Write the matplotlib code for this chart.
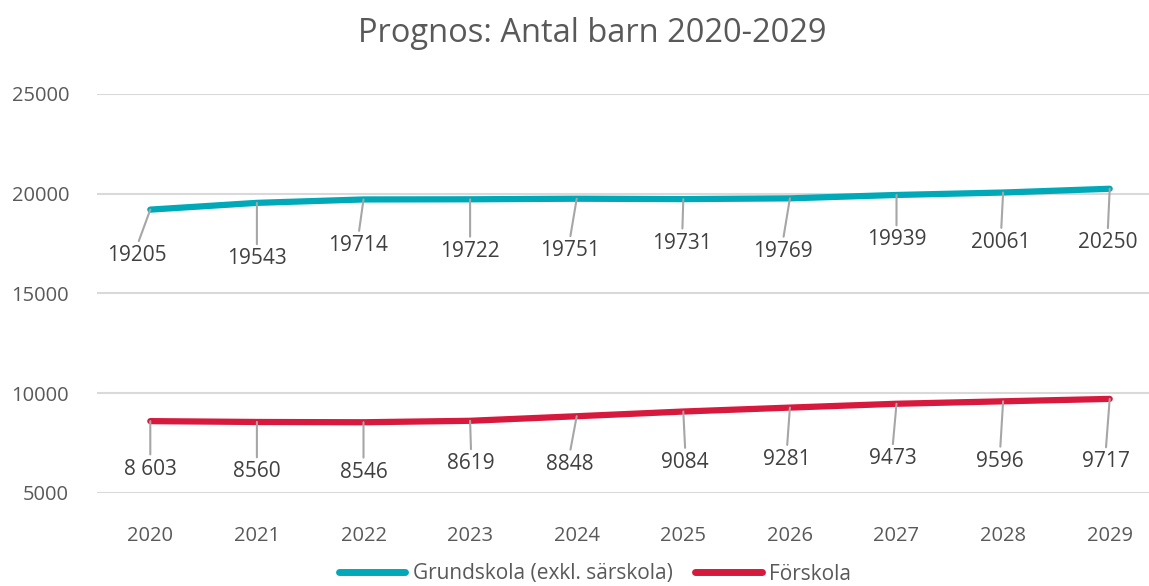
import numpy as np
import matplotlib.pyplot as plt
from matplotlib.lines import Line2D

plt.rcParams['font.family'] = ['Open Sans', 'DejaVu Sans']

years = ["2020", "2021", "2022", "2023", "2024", "2025", "2026", "2027", "2028", "2029"]
grundskola = [19205, 19543, 19714, 19722, 19751, 19731, 19769, 19939, 20061, 20250]
forskola = [8603, 8560, 8546, 8619, 8848, 9084, 9281, 9473, 9596, 9717]
forskola_labels = ["8 603", "8560", "8546", "8619", "8848", "9084", "9281", "9473", "9596", "9717"]

# label offsets in pixels (dx, dy), as placed in the original
grund_off = [(-13, -46), (0, -56), (-5, -46), (0, -52), (-7, -52),
             (-1, -44), (-7, -53), (0, -45), (-2, -50), (-2, -54)]
fors_off = [(0, -48), (0, -50), (0, -50), (1, -43), (-7, -48),
            (2, -51), (-3, -52), (-4, -55), (-3, -60), (-4, -63)]

TEAL = "#00A9B7"
RED = "#D7193D"
TXT = "#595959"
GRID = "#D9D9D9"
LEAD = "#A6A6A6"

W, H = 1149, 586
fig = plt.figure(figsize=(W / 100, H / 100), dpi=100)
ax = fig.add_axes([97 / W, 1 - 493 / H, (1163 - 97) / W, (493 - 94) / H])

x = np.arange(len(years))
ax.plot(x, grundskola, color=TEAL, lw=4.5, solid_capstyle="round", zorder=3)
ax.plot(x, forskola, color=RED, lw=4.5, solid_capstyle="round", zorder=3)

def label(xi, yi, txt, off):
    ax.annotate(txt, xy=(xi, yi), xytext=off, textcoords="offset pixels",
                ha="center", va="center", fontsize=15, color="#404040",
                arrowprops=dict(arrowstyle="-", color=LEAD, lw=1.5,
                                shrinkA=1, shrinkB=0, relpos=(0.5, 1.0)),
                annotation_clip=False, zorder=4)

for i in range(len(years)):
    label(x[i], grundskola[i], str(grundskola[i]), grund_off[i])
    label(x[i], forskola[i], forskola_labels[i], fors_off[i])

ax.set_xlim(-0.5, len(years) - 0.5)
ax.set_ylim(5000, 25000)
ax.set_yticks(range(5000, 25001, 5000))
ax.set_xticks(x)
ax.set_xticklabels(years)
ax.yaxis.grid(True, color=GRID, lw=1.5)
ax.set_axisbelow(True)
for s in ax.spines.values():
    s.set_visible(False)
ax.tick_params(length=0, labelsize=14.5, colors=TXT)
ax.tick_params(axis="y", pad=20)
ax.tick_params(axis="x", pad=24)

fig.text(592 / W, 1 - 34 / H, "Prognos: Antal barn 2020-2029", ha="center",
         va="center", fontsize=23.5, color=TXT)

handles = [Line2D([], [], color=TEAL, lw=5, solid_capstyle="round"),
           Line2D([], [], color=RED, lw=5, solid_capstyle="round")]
fig.legend(handles, ["Grundskola (exkl. särskola)", "Förskola"],
           loc="center", bbox_to_anchor=(595 / W, 1 - 574 / H), ncol=2,
           frameon=False, fontsize=15, labelcolor=TXT, handlelength=3.2,
           handletextpad=0.35, columnspacing=1.1)

fig.savefig("out.png", dpi=100)
